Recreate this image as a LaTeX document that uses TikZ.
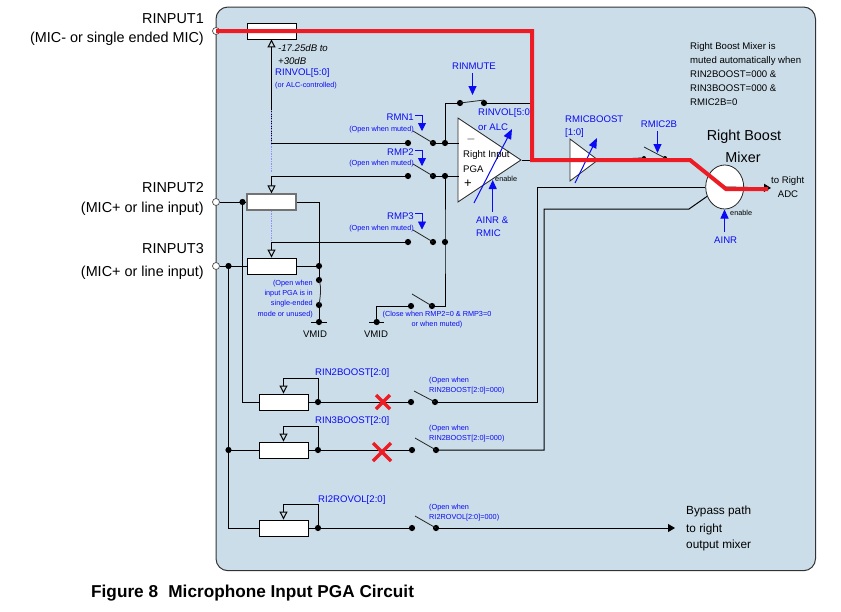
\documentclass[tikz,border=0pt]{standalone}
\usepackage{fontspec}
\setmainfont{Liberation Sans}
\usetikzlibrary{arrows.meta,shapes.geometric}
\definecolor{panelc}{HTML}{CBDDE9}
\definecolor{redc}{HTML}{ED1C24}
\definecolor{bluec}{HTML}{0A0AF5}
\tikzset{
  wire/.style={draw=black,line width=1pt},
  arm/.style={draw=black!85,line width=0.8pt},
  redline/.style={draw=redc,line width=4pt,line join=miter},
  ctl/.style={draw=bluec,line width=1pt,-{Triangle[length=9pt,width=8pt]}},
  bra/.style={draw=bluec,line width=0.8pt,-{Triangle[length=8pt,width=8pt]}},
  slope/.style={draw=bluec,line width=1pt,-{Triangle[length=10pt,width=8pt]}},
  jdot/.style={circle,fill=black,draw=none,minimum size=6.2pt,inner sep=0pt},
  port/.style={circle,fill=white,draw=black!70,line width=0.7pt,minimum size=7pt,inner sep=0pt},
  res/.style={rectangle,draw=black,fill=white,line width=0.9pt,minimum width=49pt,minimum height=16pt,inner sep=0pt},
  pot/.style={wire,-{Triangle[open,length=8pt,width=8pt,fill=panelc]}},
  faint/.style={draw=bluec!45,line width=0.7pt,densely dotted},
  amp/.style={isosceles triangle,isosceles triangle stretches,draw=black!85,fill=white,line width=0.8pt,inner sep=0pt,anchor=apex},
  pin/.style={font=\fontsize{14.4}{16}\selectfont,inner sep=0pt,anchor=east},
  lab/.style={font=\fontsize{9.6}{11}\selectfont,inner sep=0pt,anchor=west},
  blab/.style={lab,text=bluec},
  bigl/.style={lab,font=\fontsize{11.8}{13}\selectfont},
  tiny/.style={font=\fontsize{7.3}{8}\selectfont,inner sep=0pt,text=bluec},
  xmark/.style={draw=redc,line width=3.4pt},
}
\newcommand{\jn}[2]{\node[jdot] (#1) at (#2) {};}
\begin{document}
\begin{tikzpicture}[x=1pt,y=-1pt]
\useasboundingbox (0,0) rectangle (841,611);
\draw[fill=panelc,draw=black!80,line width=1pt,rounded corners=12pt] (216,7) rectangle (815.5,570.7);

% --- named parts
\node[res] (r1) at (271.5,31) {};
\node[res,draw=black!55,line width=1.2pt] (r2) at (271.5,202) {};
\node[res] (r3) at (271.5,266) {};
\node[res] (r4) at (283.5,402) {};
\node[res] (r5) at (283.5,450) {};
\node[res] (r6) at (283.5,528) {};
\node[port] (in1) at (216,31) {};
\node[port] (in2) at (216,202) {};
\node[port] (in3) at (216,266) {};
\node[amp,minimum width=84pt,minimum height=63pt] (pga) at (522,160) {};
\node[amp,minimum width=42pt,minimum height=28pt] (boost) at (599,160) {};
\node[ellipse,draw=black!85,fill=white,line width=0.8pt,minimum width=38pt,minimum height=44pt,inner sep=0pt] (mix) at (724.7,187) {};

\jn{a1}{408,143}\jn{b1}{433,143}\jn{c1}{445,143}
\jn{a2}{408,176}\jn{b2}{433,176}\jn{c2}{445,176}
\jn{a3}{408,242}\jn{b3}{433,242}\jn{c3}{445,242}
\jn{a4}{411,306}\jn{b4}{432,306}
\jn{m1}{460,103}\jn{m2}{484,103}
\jn{j2}{242.5,202}\jn{j3}{228.5,266}\jn{j5}{228.5,450}
\jn{k3}{319,266}\jn{k4}{319,280}\jn{k5}{319,305}\jn{k6}{319,322}
\jn{v2}{376.7,322}
\jn{p4}{318,402}\jn{q4}{411,402}\jn{s4}{435,402}
\jn{p5}{318,450}\jn{q5}{412,450}\jn{s5}{436,450}
\jn{p6}{318,528}\jn{q6}{412,528}\jn{s6}{436,528}
\node[jdot,minimum size=4pt] (w1) at (644,158) {};
\node[jdot,minimum size=4pt] (w2) at (665,158) {};

\coordinate (pm) at (459,143);
\coordinate (pp) at (459,176);
\coordinate (tap1) at (271.5,143);
\coordinate (tap2) at (271.5,176);
\coordinate (tap3) at (271.5,242);
\coordinate (vm) at (376.7,306);
\coordinate (cr1) at (532,31);
\coordinate (cr2) at (532,160);
\coordinate (cr3) at (690,160);
\coordinate (cr4) at (726,189);
\coordinate (cr5) at (768,189);
\coordinate (mute) at (532,103);
\coordinate (adc) at (771,188);
\coordinate (bypass) at (675,528);
\coordinate (t4) at (318,378);
\coordinate (t5) at (318,426);
\coordinate (t6) at (318,504);
\coordinate (ln4a) at (537,402);
\coordinate (ln4b) at (537,187);
\coordinate (ln5a) at (544,450);
\coordinate (ln5b) at (544,209);
\coordinate (ln5c) at (689,209);
\coordinate (lw4) at (242.5,402);
\coordinate (lw5) at (228.5,528);

% --- wires
\draw[wire] (in1) -- (r1);
\draw[wire] (r1) -- (cr1);
\draw[pot] (a1.center) -- (tap1) -- (r1.south);
\draw[pot] (a2.center) -- (tap2) -- (r2.north);
\draw[pot] (a3.center) -- (tap3) -- (r3.north);
\draw[faint] (271,110) -- (271,172);
\draw[faint] (271.5,211) -- (271.5,240);
\draw[wire] (b1.center) -- (pm);
\draw[wire] (b2.center) -- (pp);
\draw[wire] (c1.center) |- (m1.center);
\draw[wire] (m2.center) -- (mute);
\fill (mute) circle (1.6pt);
\draw[wire] (c2.center) -- (c3.center) -- (445,306) -- (b4.center);
\draw[wire] (a4.center) -- (vm) -- (v2.center);
\draw[wire] (in2) -- (r2);
\draw[wire] (in3) -- (r3);
\draw[wire] (r2.east) -| (k3.center);
\draw[wire] (r3) -- (k3);
\draw[wire] (k3.center) -- (k4.center);
\draw[wire] (k5.center) -- (k6.center);
\draw[arm] (k4.center) .. controls (322,288) and (320,298) .. (k5.center);
\draw[wire] (311,322) -- (327,322);
\draw[wire] (369,322) -- (384,322);
\draw[wire] (j2.center) -- (lw4) -- (r4.west);
\draw[wire] (j3.center) -- (lw5) -- (r6.west);
\draw[wire] (j5.center) -- (r5.west);
\draw[pot] (p4.center) -- (t4) -| (r4.north);
\draw[pot] (p5.center) -- (t5) -| (r5.north);
\draw[pot] (p6.center) -- (t6) -| (r6.north);
\draw[wire] (r4.east) -- (q4.center);
\draw[wire] (r5.east) -- (q5.center);
\draw[wire] (r6.east) -- (q6.center);
\draw[wire] (s4.center) -- (ln4a) -- (ln4b) -- (mix.west);
\draw[wire] (s5.center) -- (ln5a) -- (ln5b) -- (ln5c) -- (mix.208);
\draw[wire,-{Triangle[length=7pt,width=8pt]}] (s6.center) -- (bypass);
\draw[wire] (pga.apex) -- (cr2);
\draw[wire] (cr2) -- (boost.west);
\draw[wire] (boost.apex) -- (w1.center);
\draw[wire,-{Triangle[length=7pt,width=8pt]}] (mix.center) -- (adc);

% --- switch arms
\coordinate (e1) at (413,131);
\coordinate (e2) at (413,164);
\coordinate (e3) at (413,230);
\coordinate (e4) at (412,294);
\coordinate (e5) at (414,391);
\coordinate (e6) at (415,438);
\coordinate (e7) at (415,516);
\coordinate (e8) at (644,147);
\coordinate (e9) at (484,100);
\draw[arm] (e1) -- (b1.center);
\draw[arm] (e2) -- (b2.center);
\draw[arm] (e3) -- (b3.center);
\draw[arm] (e4) -- (b4.center);
\draw[arm] (e5) -- (s4.center);
\draw[arm] (e6) -- (s5.center);
\draw[arm] (e7) -- (s6.center);
\draw[arm] (e8) -- (w2.center);
\draw[arm] (m1.center) -- (e9);

% --- control arrows
\coordinate (mt0) at (472.5,73);\coordinate (mt1) at (472.5,95);
\draw[ctl] (mt0) -- (mt1);
\coordinate (s1a) at (415,115);\coordinate (s1b) at (422,115);\coordinate (s1c) at (422,131);
\coordinate (s2a) at (415,150);\coordinate (s2b) at (422,150);\coordinate (s2c) at (422,166);
\coordinate (s3a) at (415,213);\coordinate (s3b) at (422,213);\coordinate (s3c) at (422,229.5);
\draw[bra] (s1a) -- (s1b) -- (s1c);
\draw[bra] (s2a) -- (s2b) -- (s2c);
\draw[bra] (s3a) -- (s3b) -- (s3c);
\coordinate (sl1a) at (474,203);\coordinate (sl1b) at (512,129);
\coordinate (sl2a) at (575,183);\coordinate (sl2b) at (597,138);
\draw[slope] (sl1a) -- (sl1b);
\draw[slope] (sl2a) -- (sl2b);
\coordinate (en0) at (492.7,212);\coordinate (en1) at (492.7,180);
\draw[ctl] (en0) -- (en1);
\coordinate (mc0) at (657.5,131);\coordinate (mc1) at (657.5,153);
\draw[ctl] (mc0) -- (mc1);
\coordinate (ai0) at (724.5,232);\coordinate (ai1) at (724.5,209.5);
\draw[ctl] (ai0) -- (ai1);

% --- crossings
\draw[xmark] (376,395) -- (390,409);
\draw[xmark] (390,395) -- (376,409);
\draw[xmark] (373,443) -- (391,461);
\draw[xmark] (391,443) -- (373,461);

% --- pin labels
\node[pin] (l1) at (204,19) {RINPUT1};
\node[pin] (l2) at (204,39) {(MIC- or single ended MIC)};
\node[pin] (l3) at (204,188) {RINPUT2};
\node[pin] (l4) at (204,209) {(MIC+ or line input)};
\node[pin] (l5) at (204,249) {RINPUT3};
\node[pin] (l6) at (204,273) {(MIC+ or line input)};

% --- black labels
\node[lab,font=\fontsize{9.6}{11}\selectfont\itshape] (g1) at (278,48) {-17.25dB to};
\node[lab,font=\fontsize{9.6}{11}\selectfont\itshape] (g2) at (278,61) {+30dB};
\node[lab] (n1) at (690,47) {Right Boost Mixer is};
\node[lab] (n2) at (690,61) {muted automatically when};
\node[lab] (n3) at (690,74) {RIN2BOOST=000 \&};
\node[lab] (n4) at (690,88) {RIN3BOOST=000 \&};
\node[lab] (n5) at (690,102) {RMIC2B=0};
\node[lab,anchor=center,font=\fontsize{14.4}{16}\selectfont] (mx1) at (744,137) {Right Boost};
\node[lab,anchor=center,font=\fontsize{14.4}{16}\selectfont] (mx2) at (743,157) {Mixer};
\node[lab] (ad1) at (771,181) {to Right};
\node[lab,anchor=center] (ad2) at (788,194) {ADC};
\node[bigl] (by1) at (686,511) {Bypass path};
\node[bigl] (by2) at (686,529) {to right};
\node[bigl] (by3) at (686,545) {output mixer};
\node[lab,anchor=center,font=\fontsize{13}{13}\selectfont] (pm1) at (471,139) {$-$};
\node[lab] (pm2) at (463,155) {Right Input};
\node[lab] (pm3) at (463,169) {PGA};
\node[lab,anchor=center,font=\fontsize{13}{13}\selectfont] (pm4) at (468,184) {+};
\node[tiny,anchor=west,text=black] (en) at (495,179) {enable};
\node[tiny,anchor=west,text=black] (en2) at (730,213) {enable};
\node[lab,anchor=center] (vd1) at (315,334) {VMID};
\node[lab,anchor=center] (vd2) at (376,334) {VMID};

% --- blue labels
\node[blab] (b01) at (275,73) {RINVOL[5:0]};
\node[tiny,anchor=west] (b02) at (275,86) {(or ALC-controlled)};
\node[blab,anchor=center] (b03) at (474,66) {RINMUTE};
\node[blab,anchor=east] (b04) at (414,117) {RMN1};
\node[tiny,anchor=east] (b05) at (414,130) {(Open when muted)};
\node[blab,anchor=east] (b06) at (414,152) {RMP2};
\node[tiny,anchor=east] (b07) at (414,164) {(Open when muted)};
\node[blab,anchor=east] (b08) at (414,216) {RMP3};
\node[tiny,anchor=east] (b09) at (414,229) {(Open when muted)};
\node[blab] (b10) at (478,113) {RINVOL[5:0]};
\node[blab] (b11) at (478,127) {or ALC};
\node[blab] (b12) at (476,220) {AINR \&};
\node[blab] (b13) at (476,233) {RMIC};
\node[blab] (b14) at (565,119) {RMICBOOST};
\node[blab] (b15) at (565,133) {[1:0]};
\node[blab,anchor=center] (b16) at (659,124) {RMIC2B};
\node[blab,anchor=center] (b17) at (725.7,240) {AINR};
\node[tiny,anchor=east] (b18) at (313,284) {(Open when};
\node[tiny,anchor=east] (b19) at (313,294) {input PGA is in};
\node[tiny,anchor=east] (b20) at (313,304) {single-ended};
\node[tiny,anchor=east] (b21) at (313,315) {mode or unused)};
\node[tiny,anchor=center] (b22) at (437,315) {(Close when RMP2=0 \& RMP3=0};
\node[tiny,anchor=center] (b23) at (437,325) {or when muted)};
\node[blab] (b24) at (315,373) {RIN2BOOST[2:0]};
\node[blab] (b25) at (315,421) {RIN3BOOST[2:0]};
\node[blab] (b26) at (318,500) {RI2ROVOL[2:0]};
\node[tiny,anchor=west] (b27) at (429,381) {(Open when};
\node[tiny,anchor=west] (b28) at (429,391) {RIN2BOOST[2:0]=000)};
\node[tiny,anchor=west] (b29) at (429,429) {(Open when};
\node[tiny,anchor=west] (b30) at (429,439) {RIN2BOOST[2:0]=000)};
\node[tiny,anchor=west] (b31) at (429,508) {(Open when};
\node[tiny,anchor=west] (b32) at (429,518) {RI2ROVOL[2:0]=000)};

% --- red signal path, over everything it crosses
\draw[redline] (in1.center) -- (cr1) -- (cr2) -- (cr3) -- (cr4) -- (cr5);

% --- caption
\node[inner sep=0pt,anchor=west,font=\fontsize{17.2}{19}\selectfont\bfseries] (cap) at (91,593) {Figure 8\hspace{0.6em}Microphone Input PGA Circuit};
\end{tikzpicture}
\end{document}
